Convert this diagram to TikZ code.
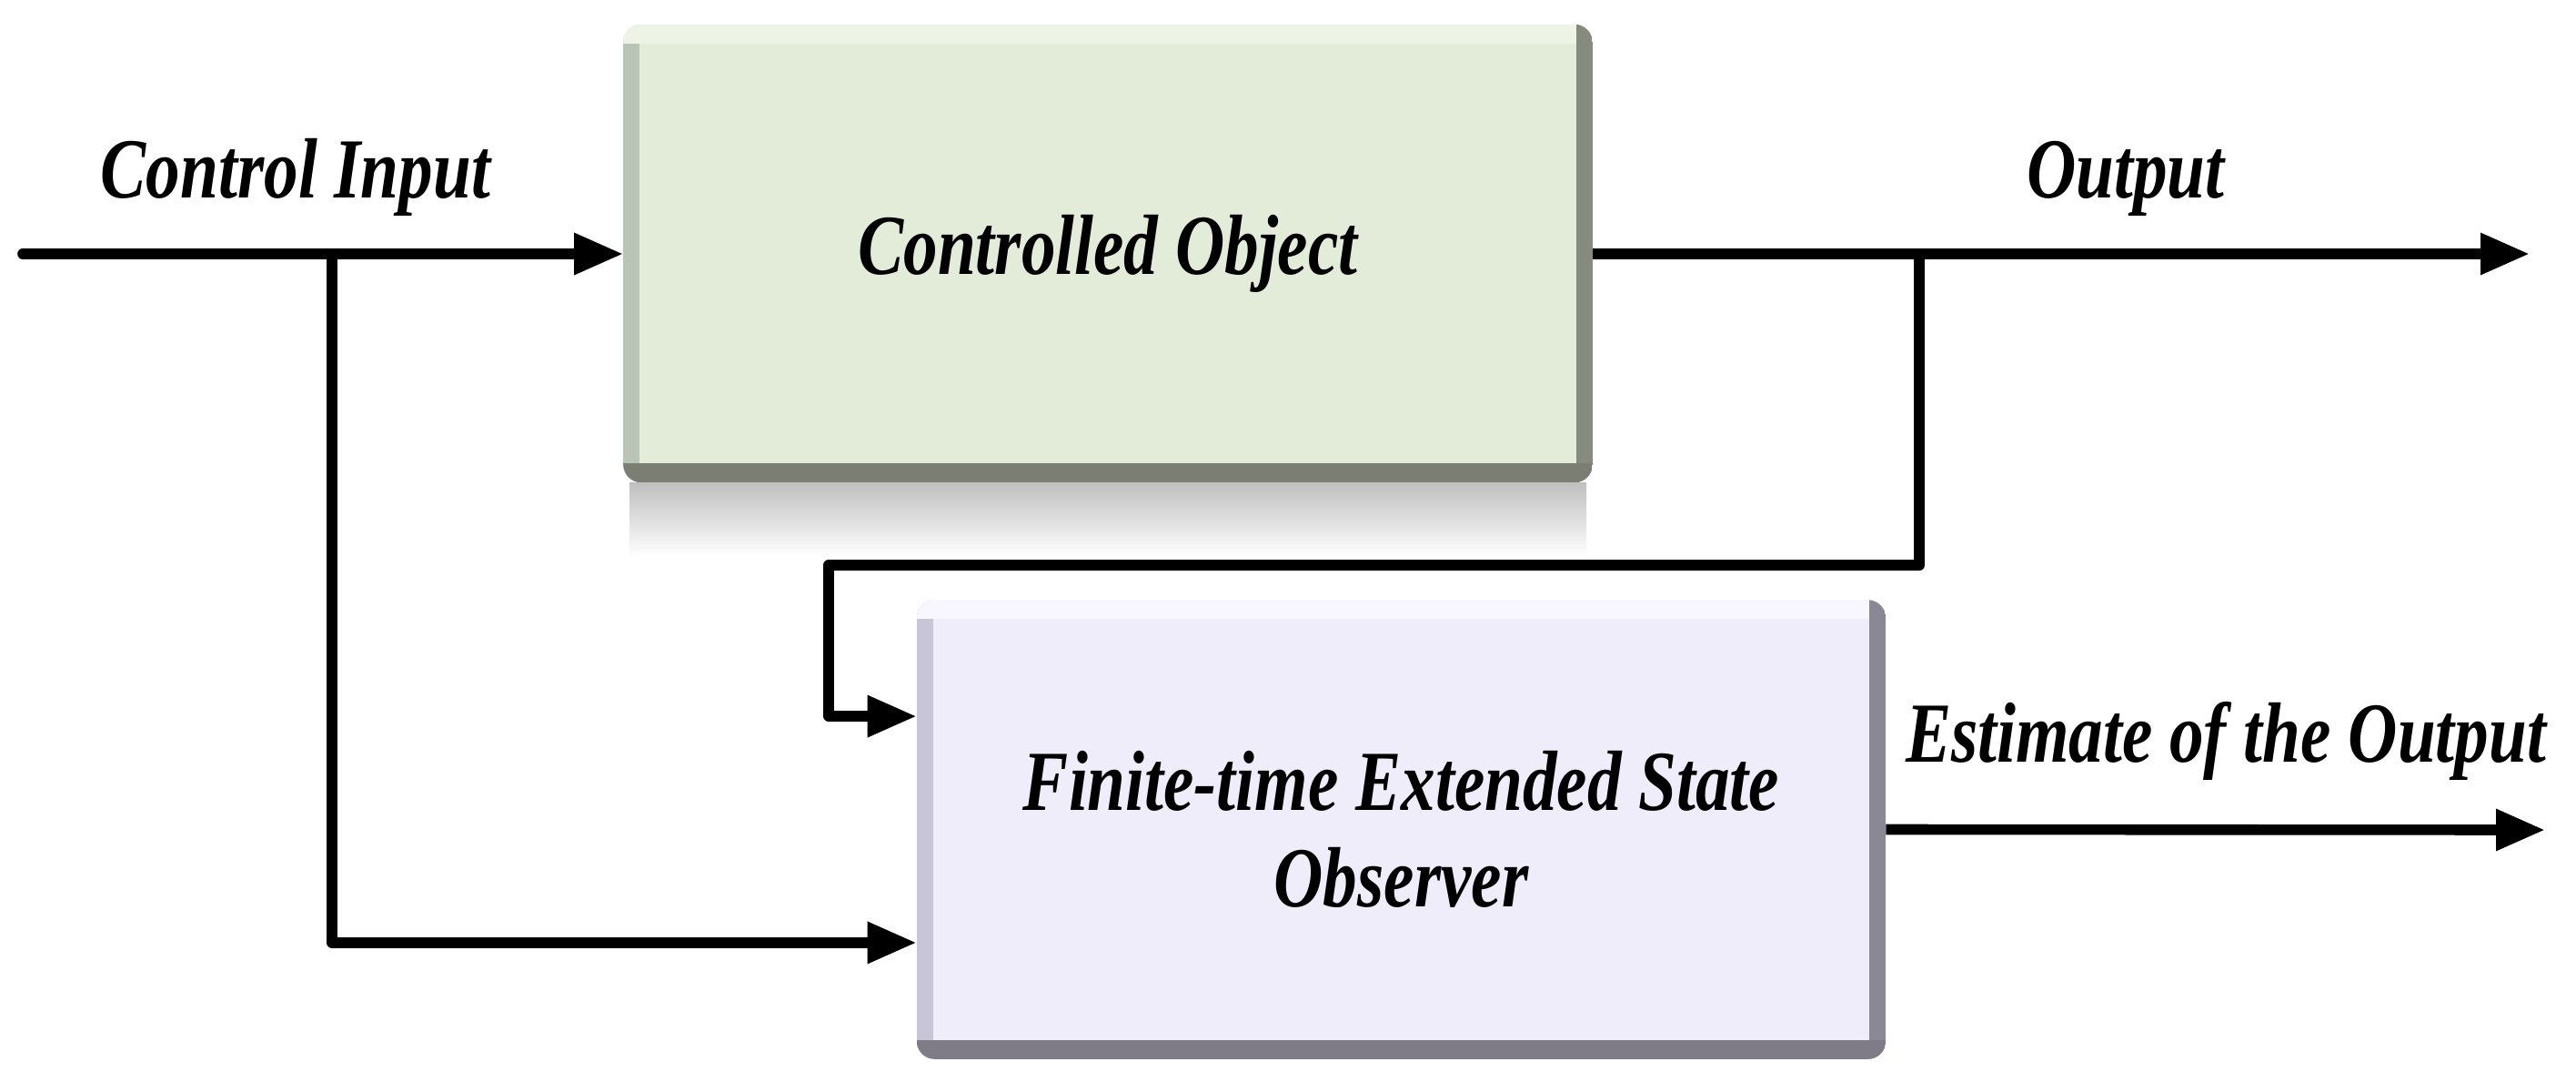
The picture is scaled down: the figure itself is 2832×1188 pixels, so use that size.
\documentclass[tikz,border=0pt]{standalone}
\usepackage{fontspec}
\newfontfamily\lblfont[FakeStretch=0.8]{Liberation Serif}
\usetikzlibrary{arrows.meta}

\definecolor{plantmain}{HTML}{E3EBD9}
\definecolor{planttop}{HTML}{EDF4E5}
\definecolor{plantleft}{HTML}{BAC4B6}
\definecolor{plantright}{HTML}{858B7F}
\definecolor{plantbottom}{HTML}{7B7E73}
\definecolor{esomain}{HTML}{F0EDFB}
\definecolor{esotop}{HTML}{F8F6FE}
\definecolor{esoleft}{HTML}{C8C5D8}
\definecolor{esoright}{HTML}{8B8895}
\definecolor{esobottom}{HTML}{7F7C88}

\begin{document}
\begin{tikzpicture}[x=0.25pt,y=-0.25pt,
    lbl/.style={font=\lblfont\bfseries\itshape\fontsize{23.5pt}{26.5pt}\selectfont},
    block/.style={lbl,minimum width=266pt,minimum height=125.5pt,inner sep=0pt,
        align=center,rounded corners=5pt},
    wire/.style={line width=2.9pt,line join=round},
    flow/.style={wire,-{Triangle[length=13.5pt,width=10.8pt]}}]

\useasboundingbox (0,0) rectangle (2832,1188);

\shade[top color=black!25,bottom color=white] (692,530) rectangle (1744,612);

\node[block,fill=plantmain] (plant) at (1218,278.5) {Controlled Object};
\node[block,fill=esomain,minimum height=125.75pt] (eso) at (1540.5,911.5)
    {Finite-time Extended State\\Observer};

\foreach \n in {plant,eso}{
    \begin{scope}
        \clip[rounded corners=5pt] (\n.north west) rectangle (\n.south east);
        \fill[fill=\n left] (\n.north west) rectangle ([xshift=4.5pt]\n.south west);
        \fill[fill=\n top] (\n.north west) rectangle ([yshift=-5.25pt]\n.north east);
        \fill[fill=\n right] ([xshift=-4.5pt]\n.north east) rectangle (\n.south east);
        \fill[fill=\n bottom] ([yshift=5.25pt]\n.south west) rectangle (\n.south east);
    \end{scope}
}

\node[lbl,anchor=base] (cin) at (325,217) {Control Input};
\node[lbl,anchor=base] (yout) at (2337,217) {Output};
\node[lbl,anchor=base] (yest) at (2447,837) {Estimate of the Output};

\coordinate (src) at (25,279);
\coordinate (tapin) at (365,279);
\coordinate (tapout) at (2110,279);
\coordinate (yend) at (2781,279);
\coordinate (bend) at (911,621);
\coordinate (estend) at (2798,912);

\draw[wire,line cap=round] (src) -- (tapin);
\draw[flow] (tapin) -- (plant.west |- src);
\draw[flow] (plant.east |- src) -- (yend);
\draw[flow] (tapin) |- ([yshift=-31.1pt]eso.west);
\draw[flow] (tapout) |- (bend) |- ([yshift=31.1pt]eso.west);
\draw[flow] (eso.east) -- (estend);
\end{tikzpicture}
\end{document}
